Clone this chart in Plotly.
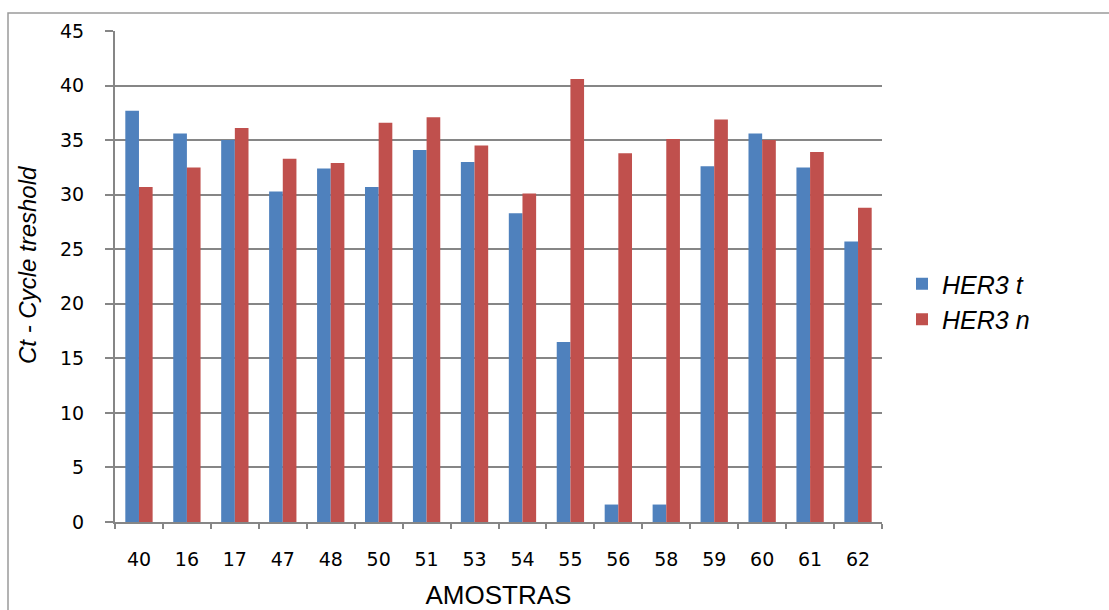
import plotly.graph_objects as go

amostras = ["40", "16", "17", "47", "48", "50", "51", "53", "54", "55",
            "56", "58", "59", "60", "61", "62"]
her3_t = [37.7, 35.6, 35.0, 30.3, 32.4, 30.7, 34.1, 33.0, 28.3, 16.5,
          1.6, 1.6, 32.6, 35.6, 32.5, 25.7]
her3_n = [30.7, 32.5, 36.1, 33.3, 32.9, 36.6, 37.1, 34.5, 30.1, 40.6,
          33.8, 35.1, 36.9, 35.0, 33.9, 28.8]

W, H = 1109, 610
L, R, T, B = 115, 227, 31, 88
pw, ph = W - L - R, H - T - B

fig = go.Figure()
fig.add_trace(go.Bar(name="HER3 t", x=amostras, y=her3_t, marker_color="#4F81BD",
                     marker_line_width=0))
fig.add_trace(go.Bar(name="HER3 n", x=amostras, y=her3_n, marker_color="#C0504D",
                     marker_line_width=0))

grid = "#868686"
fig.update_layout(
    width=W, height=H,
    margin=dict(l=L, r=R, t=T, b=B, pad=0, autoexpand=False),
    paper_bgcolor="white", plot_bgcolor="white",
    barmode="group", bargap=0.43, bargroupgap=0,
    font=dict(family="DejaVu Sans", color="#000000"),
    legend=dict(
        x=(902 - L) / pw, y=(H - B - 261) / ph, xanchor="left", yanchor="top",
        font=dict(family="Liberation Sans", size=25, style="italic"),
        tracegroupgap=0, itemwidth=30,
        bgcolor="rgba(0,0,0,0)",
    ),
    showlegend=True,
)

fig.update_yaxes(
    automargin=False,
    range=[0, 45], dtick=5, tick0=0,
    showgrid=True, gridcolor=grid, gridwidth=1.5,
    showline=True, linecolor=grid, linewidth=2,
    ticks="outside", ticklen=8, tickcolor=grid, tickwidth=1.5,
    ticklabelstandoff=17,
    tickfont=dict(family="DejaVu Sans", size=19, color="#000000"),
    zeroline=False,
)
fig.update_xaxes(
    automargin=False,
    type="category",
    showline=True, linecolor=grid, linewidth=2,
    ticks="outside", tickson="boundaries", ticklen=5, tickcolor=grid, tickwidth=1.5,
    ticklabelstandoff=19,
    tickfont=dict(family="DejaVu Sans", size=19, color="#000000"),
    title=dict(text="AMOSTRAS",
               font=dict(family="Liberation Sans", size=26),
               standoff=17),
)

# vertical axis title
fig.add_annotation(
    text="Ct - Cycle treshold", textangle=-90, showarrow=False,
    xref="paper", yref="paper",
    x=(27 - L) / pw, y=(H - B - 265) / ph, xanchor="center", yanchor="middle",
    font=dict(family="Liberation Sans", size=24, style="italic", color="#000000"),
)

# chart-area frame (top and left edges visible)
fx0 = (8 - L) / pw
fy1 = (H - B - 13) / ph
fig.add_shape(type="rect", xref="paper", yref="paper",
              x0=fx0, x1=1.6, y0=-0.6, y1=fy1,
              line=dict(color="#9a9a9a", width=1.5), fillcolor="rgba(0,0,0,0)",
              layer="below")

fig.write_html("out.html")
